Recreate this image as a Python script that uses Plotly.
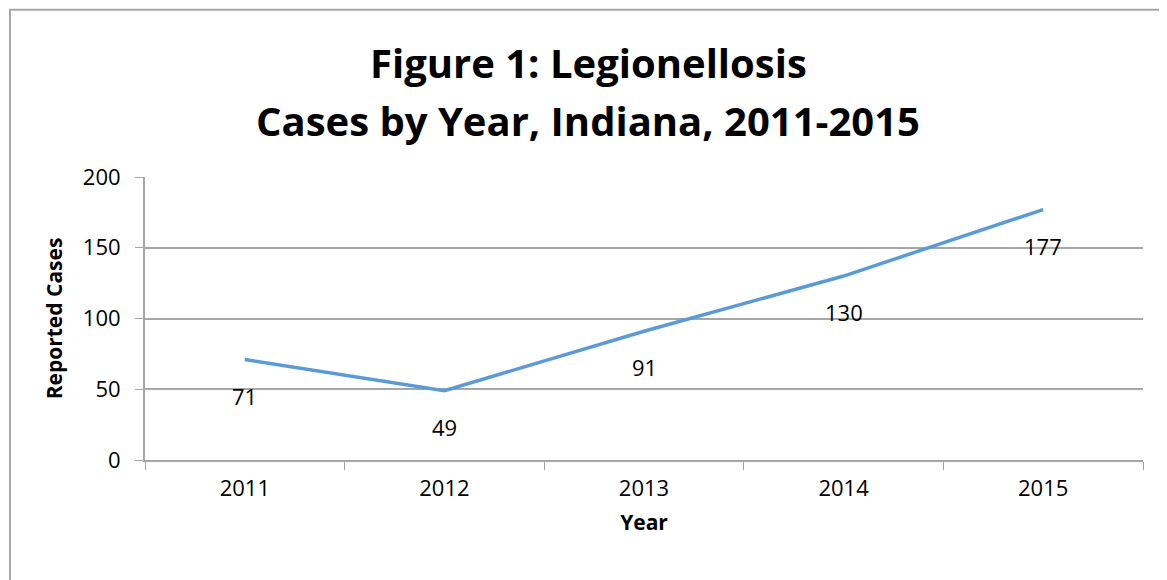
import plotly.graph_objects as go

# dados
anos = ["2011", "2012", "2013", "2014", "2015"]
casos = [71, 49, 91, 130, 177]

titulo_1 = "Figure 1: Legionellosis"
titulo_2 = "Cases by Year, Indiana, 2011-2015"
fonte = "Open Sans, Liberation Sans, sans-serif"
cinza = "#a6a6a6"

fig = go.Figure()

fig.add_trace(go.Scatter(
    x=anos,
    y=casos,
    mode="lines",
    line=dict(color="#5B9BD5", width=3.5),
    hoverinfo="x+y",
))

# rótulos abaixo dos pontos (x pelo índice da categoria)
for i, c in enumerate(casos):
    fig.add_annotation(x=i, y=c, xref="x", yref="y", text=str(c), showarrow=False,
                       yshift=-36, font=dict(size=22, color="black", family=fonte))

# título em duas linhas
fig.add_annotation(x=0.444, y=1.406, xref="paper", yref="paper", text="<b>" + titulo_1 + "</b>",
                   showarrow=False, yanchor="middle", font=dict(size=40, color="black"))
fig.add_annotation(x=0.444, y=1.201, xref="paper", yref="paper", text="<b>" + titulo_2 + "</b>",
                   showarrow=False, yanchor="middle", font=dict(size=40, color="black"))

# borda do gráfico
fig.add_shape(type="rect", xref="paper", yref="paper",
              x0=-0.1353, x1=1.05, y0=-0.5, y1=1.591,
              line=dict(color=cinza, width=2))

fig.update_layout(
    width=1159,
    height=572,
    margin=dict(l=137, r=24, t=169, b=120),
    paper_bgcolor="white",
    plot_bgcolor="white",
    showlegend=False,
    font=dict(family=fonte, color="black"),
    xaxis=dict(
        type="category",
        range=[-0.5, 4.5],
        tickson="boundaries",
        ticks="outside",
        ticklen=8,
        tickcolor=cinza,
        showline=True,
        linecolor=cinza,
        linewidth=2,
        showgrid=False,
        tickfont=dict(size=22),
        ticklabelstandoff=8,
        title=dict(text="<b>Year</b>", font=dict(size=21), standoff=14),
    ),
    yaxis=dict(
        range=[0, 200],
        tickvals=[0, 50, 100, 150, 200],
        ticks="outside",
        ticklen=8,
        tickcolor=cinza,
        showline=True,
        linecolor=cinza,
        linewidth=2,
        gridcolor=cinza,
        gridwidth=1.5,
        zeroline=False,
        tickfont=dict(size=22),
        ticklabelstandoff=10,
        title=dict(text="<b>Reported Cases</b>", font=dict(size=21), standoff=14),
    ),
)

fig.write_html("out.html")
